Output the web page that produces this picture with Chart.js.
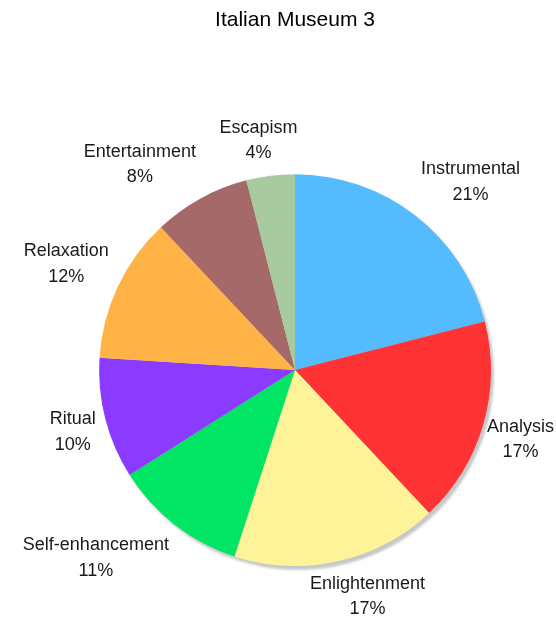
<!DOCTYPE html>
<html>
<head>
<meta charset="utf-8">
<script src="https://cdn.jsdelivr.net/npm/chart.js@4/dist/chart.umd.min.js"></script>
<style>
  html, body { margin: 0; padding: 0; background: #ffffff; }
  #wrap { width: 556px; height: 622px; }
</style>
</head>
<body>
<div id="wrap"><canvas id="pie" width="556" height="622"></canvas></div>
<script>
const categories = ['Instrumental', 'Analysis', 'Enlightenment', 'Self-enhancement', 'Ritual', 'Relaxation', 'Entertainment', 'Escapism'];
const shares = [21, 17, 17, 11, 10, 12, 8, 4];
const sliceColors = ['#55BBFF', '#FF3333', '#FFF399', '#00E564', '#8B3BFF', '#FFB347', '#A56969', '#A8CA9F'];
const chartTitle = 'Italian Museum 3';

const FONT = '"Liberation Sans", Arial, Helvetica, sans-serif';

// soft grey drop shadow under the whole pie
const pieShadow = {
  id: 'pieShadow',
  beforeDatasetsDraw(chart) {
    const arc = chart.getDatasetMeta(0).data[0];
    if (!arc) return;
    const ctx = chart.ctx;
    ctx.save();
    ctx.filter = 'blur(1px)';
    ctx.fillStyle = '#c8c8c8';
    ctx.beginPath();
    ctx.arc(arc.x + 3, arc.y + 4, arc.outerRadius, 0, Math.PI * 2);
    ctx.fill();
    ctx.restore();
  }
};

// two-line "name / percent" labels placed outside each slice
const outerLabels = {
  id: 'outerLabels',
  afterDatasetsDraw(chart) {
    const ctx = chart.ctx;
    const meta = chart.getDatasetMeta(0);
    const values = chart.data.datasets[0].data;
    const total = values.reduce((a, b) => a + b, 0);
    const size = 18, lineGap = 25.5;
    ctx.save();
    ctx.font = size + 'px ' + FONT;
    ctx.fillStyle = '#1a1a1a';
    ctx.textAlign = 'center';
    ctx.textBaseline = 'middle';
    const clamp = v => Math.max(-1, Math.min(1, v));
    meta.data.forEach((arc, i) => {
      const mid = (arc.startAngle + arc.endAngle) / 2;
      const ux = Math.cos(mid), uy = Math.sin(mid);
      const d = arc.outerRadius * 1.05;
      const lines = [chart.data.labels[i], Math.round(values[i] / total * 100) + '%'];
      const w = Math.max(...lines.map(t => ctx.measureText(t).width));
      const h = lineGap * 2;
      let cx = arc.x + d * ux + (w / 2) * clamp(2.2 * ux);
      const cy = arc.y + d * uy + (h / 2) * clamp(1.7 * uy);
      // keep the block inside the canvas
      cx = Math.min(Math.max(cx, w / 2 + 2), chart.width - w / 2 - 2);
      ctx.fillText(lines[0], cx, cy - lineGap / 2);
      ctx.fillText(lines[1], cx, cy + lineGap / 2);
    });
    ctx.restore();
  }
};

new Chart(document.getElementById('pie'), {
  type: 'pie',
  data: {
    labels: categories,
    datasets: [{
      data: shares,
      backgroundColor: sliceColors,
      borderWidth: 0,
      hoverOffset: 0
    }]
  },
  options: {
    responsive: false,
    animation: false,
    events: [],
    layout: { padding: { left: 99, right: 65, top: 0, bottom: 56 } },
    plugins: {
      legend: { display: false },
      tooltip: { enabled: false },
      title: {
        display: true,
        text: chartTitle,
        color: '#000000',
        font: { family: FONT, size: 21, weight: 'normal' },
        padding: { top: 8, bottom: 141 }
      }
    }
  },
  plugins: [pieShadow, outerLabels]
});
</script>
</body>
</html>
